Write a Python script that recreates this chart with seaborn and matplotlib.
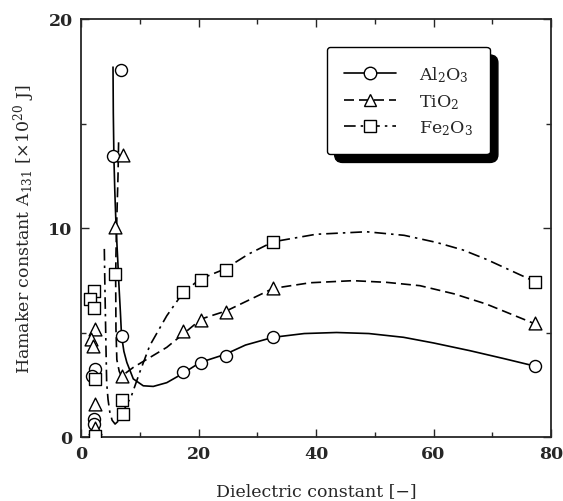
import matplotlib
matplotlib.use("Agg")
import matplotlib.pyplot as plt
from matplotlib.lines import Line2D
from matplotlib.patches import FancyBboxPatch
from matplotlib.transforms import IdentityTransform
import seaborn as sns
import pandas as pd

# ---------------- data ----------------
al_x = [6.8, 5.5, 6.9, 2.4, 1.9, 2.2, 2.2, 17.4, 20.4, 24.7, 32.7, 77.2]
al_y = [17.55, 13.45, 4.85, 3.25, 2.93, 0.86, 0.62, 3.10, 3.54, 3.86, 4.77, 3.41]

ti_x = [7.1, 5.8, 6.9, 2.4, 1.65, 2.0, 2.3, 2.3, 17.4, 20.4, 24.7, 32.7, 77.2]
ti_y = [13.5, 10.03, 2.93, 5.17, 4.7, 4.37, 1.58, 0.45, 5.09, 5.61, 6.0, 7.11, 5.45]

fe_x = [5.8, 2.2, 1.5, 2.2, 2.3, 2.4, 7.0, 7.2, 17.4, 20.4, 24.7, 32.7, 77.2]
fe_y = [7.8, 7.0, 6.6, 6.16, 2.78, 0.06, 1.78, 1.1, 6.92, 7.53, 8.0, 9.34, 7.43]

# fitted curves
al_cx = [5.45, 5.5, 5.6, 5.75, 5.9, 6.05, 6.25, 6.45, 6.7, 6.9, 7.3, 7.8, 8.9, 10.6,
         12.3, 14.6, 17.1, 20.3, 24.5, 28.0, 32.7, 38.0, 43.5, 49.0, 54.9, 60.0, 66.2, 72.0, 77.0]
al_cy = [17.7, 15.5, 13.4, 11.8, 10.6, 9.6, 8.5, 7.3, 6.0, 4.85, 4.1, 3.57, 2.78, 2.45,
         2.42, 2.6, 3.0, 3.57, 3.95, 4.4, 4.77, 4.95, 5.0, 4.95, 4.77, 4.5, 4.13, 3.75, 3.41]

ti_cx = [6.4, 6.3, 6.15, 6.05, 5.95, 5.9, 5.95, 6.1, 6.5, 6.9, 7.8, 8.9, 11.7, 14.6,
         17.4, 20.5, 24.8, 32.7, 39.0, 46.3, 52.0, 57.7, 63.5, 69.0, 77.3]
ti_cy = [14.1, 12.5, 11.0, 9.95, 8.7, 7.56, 5.2, 3.7, 3.15, 2.9, 3.1, 3.33, 3.8, 4.29,
         4.93, 5.65, 6.04, 7.11, 7.38, 7.48, 7.4, 7.24, 6.85, 6.36, 5.41]

fe_cx = [3.97, 4.05, 4.15, 4.25, 4.37, 4.6, 4.9, 5.3, 5.8, 6.3, 7.0, 7.6, 8.6, 10.0,
         11.7, 14.6, 17.4, 20.3, 24.5, 28.5, 32.7, 40.0, 48.6, 55.0, 60.5, 65.0, 69.0, 77.3]
fe_cy = [9.0, 7.5, 5.9, 4.3, 2.6, 1.8, 1.2, 0.8, 0.62, 0.75, 1.1, 1.45, 1.98, 3.1,
         4.37, 5.8, 6.92, 7.56, 8.04, 8.75, 9.34, 9.7, 9.82, 9.65, 9.31, 8.95, 8.5, 7.43]

labels = ["Al$_2$O$_3$", "TiO$_2$", "Fe$_2$O$_3$"]
x_ticks = [0, 20, 40, 60, 80]
y_ticks = [0, 10, 20]

# ---------------- style ----------------
sns.set_style("ticks")
plt.rcParams["font.family"] = ["DejaVu Serif"]
plt.rcParams["mathtext.fontset"] = "dejavuserif"
plt.rcParams["axes.linewidth"] = 1.3

fig = plt.figure(figsize=(5.63, 5.02), dpi=100)
ax = fig.add_axes([81 / 563, 64 / 502, 470 / 563, 418 / 502])

styles = ["-", (0, (6, 3)), (0, (7, 3, 1.5, 3))]
markers = ["o", "^", "s"]
curves = [(al_cx, al_cy), (ti_cx, ti_cy), (fe_cx, fe_cy)]
points = [(al_x, al_y), (ti_x, ti_y), (fe_x, fe_y)]

for (cx, cy), ls in zip(curves, styles):
    dfc = pd.DataFrame({"x": cx, "y": cy})
    sns.lineplot(data=dfc, x="x", y="y", sort=False, estimator=None, ax=ax,
                 color="black", lw=1.2, linestyle=ls, zorder=2)

sizes = [75, 85, 68]
for (px, py), mk, sz in zip(points, markers, sizes):
    dfp = pd.DataFrame({"x": px, "y": py})
    sns.scatterplot(data=dfp, x="x", y="y", marker=mk, s=sz, facecolor="white",
                    edgecolor="black", linewidth=1.0, ax=ax, zorder=3)

ax.set_xlim(0, 80)
ax.set_ylim(0, 20)
ax.set_xticks(x_ticks)
ax.set_yticks(y_ticks)
ax.set_xticks([10, 30, 50, 70], minor=True)
ax.set_yticks([5, 15], minor=True)
ax.tick_params(which="both", direction="in", top=True, right=True, width=1.0)
ax.tick_params(which="major", length=6, labelsize=12.5, pad=6)
ax.tick_params(which="minor", length=3.5)
for lab in ax.get_xticklabels() + ax.get_yticklabels():
    lab.set_fontweight("bold")
for s in ax.spines.values():
    s.set_visible(True)

ax.set_xlabel("Dielectric constant [\u2212]", fontsize=12.5, labelpad=14)
ax.set_ylabel("Hamaker constant A$_{131}$ [\u00d710$^{20}$ J]", fontsize=12.5, labelpad=8)

handles = [Line2D([0], [0], color="black", lw=1.2, linestyle=ls, marker=mk,
                  markersize=9, markerfacecolor="white", markeredgecolor="black",
                  markeredgewidth=1.0)
           for ls, mk in zip(styles, markers)]
leg = ax.legend(handles, labels, loc="upper right", bbox_to_anchor=(0.870, 0.933),
                borderaxespad=0, fontsize=12.5, handlelength=3.0, handletextpad=1.3,
                labelspacing=0.45, borderpad=1.0, fancybox=True, framealpha=1,
                edgecolor="black")
leg.get_frame().set_linewidth(1.0)
leg.set_zorder(10)

fig.canvas.draw()
bb = leg.get_frame().get_window_extent()
shadow = FancyBboxPatch((bb.x0 + 8, bb.y0 - 8), bb.width, bb.height,
                        boxstyle="round,pad=0,rounding_size=8",
                        transform=IdentityTransform(), facecolor="black",
                        edgecolor="black", zorder=9)
ax.add_artist(shadow)

fig.savefig("out.png", dpi=100)
